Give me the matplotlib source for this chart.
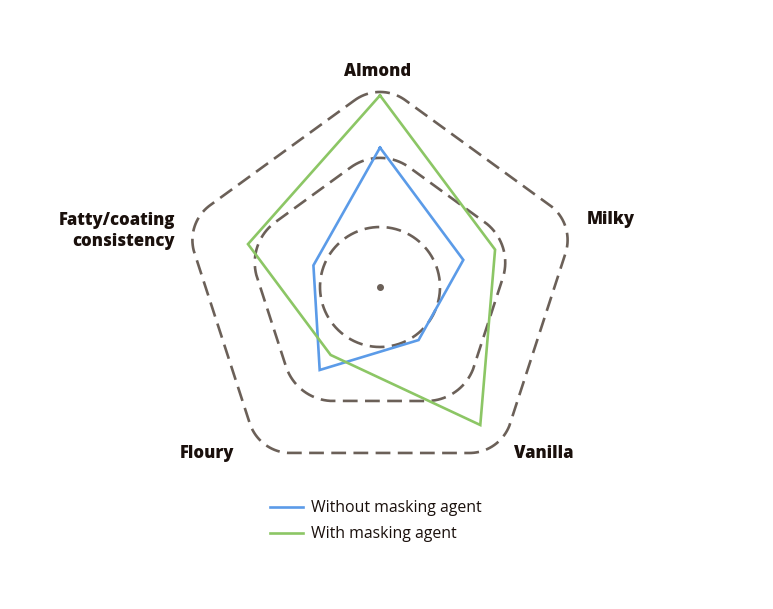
import numpy as np
import matplotlib
matplotlib.use("Agg")
import matplotlib.pyplot as plt

# ---- data ----
categories = ["Almond", "Milky", "Vanilla", "Floury", "Fatty/coating\nconsistency"]
angles_deg = [90, 18, -54, -126, 162]
without_agent = [6.97, 4.38, 3.28, 5.13, 3.50]
with_agent = [9.58, 6.05, 8.53, 4.20, 6.94]
series_names = ["Without masking agent", "With masking agent"]
series_colors = ["#5b9be8", "#8cc665"]
# rounded-pentagon grid rings: (apothem, corner radius)
ring_apothems = [3.0, 5.7, 8.3]
ring_corners = [3.0, 2.5, 2.15]

GRID_COLOR = "#6b6058"
TEXT_COLOR = "#1a100c"

W, H = 773, 609
fig = plt.figure(figsize=(W / 100, H / 100), dpi=100)
cx, cy = 380, 287
rmax = 10.5
px_per_unit = 20
half = rmax * px_per_unit
ax = fig.add_axes([(cx - half) / W, (H - cy - half) / H, 2 * half / W, 2 * half / H],
                  projection="polar")
ax.set_ylim(0, rmax)
ax.grid(False)
ax.set_xticks([])
ax.set_yticks([])
ax.spines["polar"].set_visible(False)
ax.patch.set_alpha(0)

th = np.deg2rad(angles_deg)


def rounded_pentagon(a, rc, n=60):
    xs, ys = [], []
    d = (a - rc) / np.cos(np.deg2rad(36))
    for t in th:
        c = np.array([d * np.cos(t), d * np.sin(t)])
        arc = np.linspace(t + np.deg2rad(36), t - np.deg2rad(36), n)
        xs.extend(c[0] + rc * np.cos(arc))
        ys.extend(c[1] + rc * np.sin(arc))
    xs.append(xs[0]); ys.append(ys[0])
    xs, ys = np.array(xs), np.array(ys)
    return np.arctan2(ys, xs), np.hypot(xs, ys)


for a, rc in zip(ring_apothems, ring_corners):
    tt, rr = rounded_pentagon(a, rc)
    ax.plot(np.unwrap(tt), rr, color=GRID_COLOR, lw=1.9, dashes=(5.6, 2.8),
            solid_capstyle="butt", dash_capstyle="butt")

ax.plot([0], [0], marker="o", ms=4, color=GRID_COLOR)

tt = np.append(th, th[0])
for vals, col, name in zip([without_agent, with_agent], series_colors, series_names):
    ax.plot(tt, np.append(vals, vals[0]), color=col, lw=1.9, label=name,
            solid_joinstyle="miter")

# category labels
lab_font = dict(family="Open Sans", weight="heavy", size=12, color=TEXT_COLOR)
label_pos = [(378, 72, "center"), (611, 220, "center"), (544, 453, "center"),
             (207, 453, "center"), (175, 231, "right")]
for cat, (x, y, ha) in zip(categories, label_pos):
    fig.text(x / W, 1 - y / H, cat, ha=ha, va="center", linespacing=1.35,
             multialignment="right", **lab_font)

leg = fig.legend(loc="upper left", bbox_to_anchor=(256 / W, 1 - 486 / H),
                 frameon=False, handlelength=2.05, handletextpad=0.5,
                 labelspacing=0.62,
                 prop=dict(family="Open Sans", size=11.4))
for t in leg.get_texts():
    t.set_color(TEXT_COLOR)

fig.savefig("out.png", dpi=100)
